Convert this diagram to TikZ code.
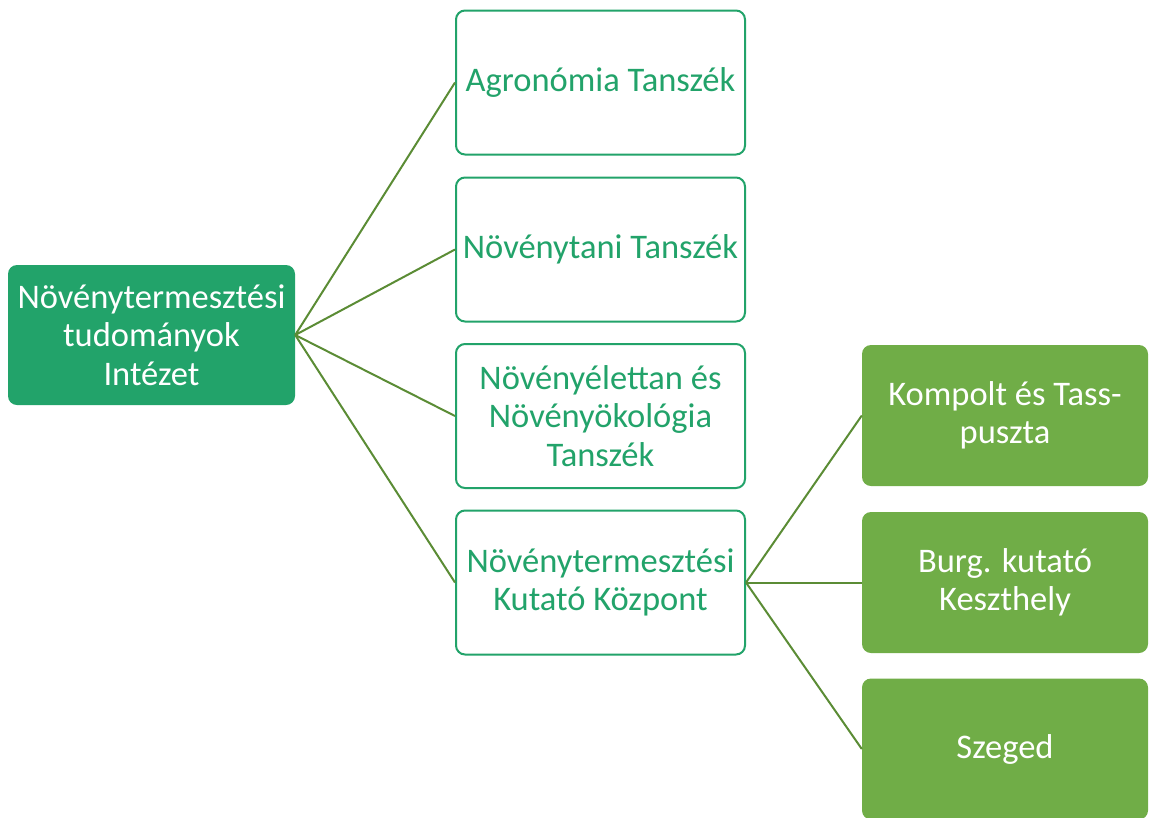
\documentclass[tikz,border=0pt]{standalone}
\usepackage{fontspec}
\setmainfont{Carlito}
\definecolor{rootgreen}{HTML}{22A36A}
\definecolor{midgreen}{HTML}{22A36A}
\definecolor{leafgreen}{HTML}{70AD47}
\definecolor{linkgreen}{HTML}{5B8C35}
\tikzset{
  box/.style={rounded corners=9pt, minimum width=#1, align=center, inner sep=0pt,
    font=\fontsize{34.5}{38.5}\selectfont},
  rootbox/.style={box=287pt, minimum height=140pt, fill=rootgreen, text=white},
  midbox/.style={box=289pt, minimum height=144pt, draw=midgreen, line width=2pt, fill=white, text=midgreen},
  leafbox/.style={box=286pt, minimum height=141pt, fill=leafgreen, text=white},
  link/.style={draw=linkgreen, line width=2pt}
}
\begin{document}
\begin{tikzpicture}[x=1pt,y=-1pt]
\useasboundingbox (0,0) rectangle (1150,817);
\begin{scope}
\clip (0,0) rectangle (1150,817);
\node[rootbox] (root) at (151.5,335) {Növénytermesztési\\tudományok\\Intézet};
\node[midbox] (m1) at (600.5,82.5) {Agronómia Tanszék};
\node[midbox] (m2) at (600.5,249.5) {Növénytani Tanszék};
\node[midbox] (m3) at (600.5,416) {Növényélettan és\\Növényökológia\\Tanszék};
\node[midbox] (m4) at (600.5,582.5) {Növénytermesztési\\Kutató Központ};
\node[leafbox] (l1) at (1005,415.5) {Kompolt és Tass-\\puszta};
\node[leafbox] (l2) at (1005,582.5) {Burg. kutató\\Keszthely};
\node[leafbox] (l3) at (1005,749) {Szeged};
\foreach \m in {m1,m2,m3,m4} \draw[link] (root.east) -- (\m.west);
\foreach \l in {l1,l2,l3} \draw[link] (m4.east) -- (\l.west);
\end{scope}
\end{tikzpicture}
\end{document}
